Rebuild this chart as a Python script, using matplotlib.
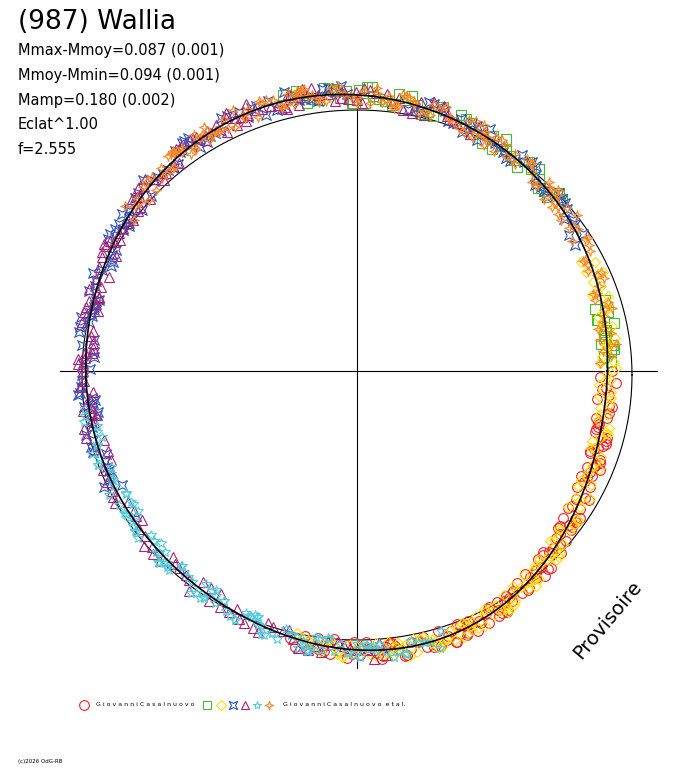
import numpy as np
import matplotlib
matplotlib.use('Agg')
import matplotlib.pyplot as plt
from matplotlib.path import Path

# mean light-curve radius (pixels) vs position angle (deg)
prof_ang = [0, 15, 30, 45, 60, 75, 90, 105, 120, 135, 150, 165, 180, 195, 210,
            225, 240, 255, 270, 285, 300, 315, 330, 345, 360]
prof_rad = [248, 255, 260, 261, 268, 272, 276, 278, 282, 278, 275, 272, 272, 271,
            266, 270, 268, 274, 280, 279, 278, 267, 257, 253, 248]

# radial scatter offsets (read as typical spread around the curve)
offs = [0, 6, -5, 9, -8, 3, -3, 11, -10, 5, -6, 1, 8, -2, -9, 4, 7, -4, 10, -7]

red_ang = [-4, -8, -12, -15, -19, -22, -26, -29, -33, -36, -40, -43, -46, -50, -53, -56,
           -59, -62, -65, -68, -71, -74, -77, -80, -83, -86, -89, -92, -95, -98, -101, -104,
           -60, -48, -38, -24, -17, -84, -70]
green_ang = [72, 76, 80, 84, 87, 91, 94, 98, 101, 5, 8, 12, 2, 40, 44, 48, 52, 56, 60, 64]
yellow_ang = [22, 18, 14, 10, 6, 2, -2, -6, -10, -14, -18, -22, -26, -30, -34, -38, -42, -46,
              -50, -54, -58, -62, -66, -70, -74, -78, -82, -86, -90, -94, -97, -100, -103,
              -44, -52, -60, -68, -76, -84]
blue_ang = [92, 97, 102, 107, 112, 117, 122, 127, 132, 137, 142, 147, 152, 157, 162, 167,
            172, 177, 182, 187, 192, 197, 202, 30, 35, 40, 45, 50, 55, 60, 65, 70, 75,
            125, 145, 165, 185]
purple_ang = [62, 68, 74, 80, 86, 92, 98, 104, 110, 116, 122, 128, 134, 140, 146, 152, 158,
              164, 170, 176, 182, 188, 194, 200, 206, 212, 218, 224, 230, 236, 242, 248,
              254, 260, 266, 272, 139, 151, 163, 175, 187, 113, 101, 89]
cyan_ang = [188, 192, 196, 200, 204, 208, 212, 216, 220, 224, 228, 232, 236, 240, 244, 248,
            252, 256, 260, 264, 268, 272, 276, 280, 284, 210, 222, 234, 246, 258, 270]
orange_ang = [142, 138, 134, 130, 126, 122, 118, 114, 110, 106, 102, 98, 94, 90, 86, 82,
              78, 74, 70, 66, 62, 58, 54, 50, 46, 42, 38, 34, 30, 26, 22, 18, 14, 10, 6, 2,
              128, 120, 100, 80, 60, 40]

legend_1 = 'G i o v a n n i C a s a l n u o v o'
legend_2 = 'G i o v a n n i C a s a l n u o v o  e t a l.'
stats = ['Mmax-Mmoy=0.087 (0.001)', 'Mmoy-Mmin=0.094 (0.001)',
         'Mamp=0.180 (0.002)', 'Eclat^1.00', 'f=2.555']

star4 = Path([(0, 1), (0.25, 0.25), (1, 0), (0.25, -0.25), (0, -1), (-0.25, -0.25),
              (-1, 0), (-0.25, 0.25), (0, 1)])
star4b = Path([(0.7, 0.7), (0, 0.35), (-0.7, 0.7), (-0.35, 0), (-0.7, -0.7), (0, -0.35),
               (0.7, -0.7), (0.35, 0), (0.7, 0.7)])


def radius(a):
    # smooth periodic version of the profile (low-order Fourier series)
    th = np.radians(np.array(prof_ang[:-1], dtype=float))
    rr = np.array(prof_rad[:-1], dtype=float)
    out = np.full_like(a, rr.mean(), dtype=float)
    ta = np.radians(a)
    for n in range(1, 5):
        cn = 2 * np.mean(rr * np.cos(n * th))
        sn = 2 * np.mean(rr * np.sin(n * th))
        out += cn * np.cos(n * ta) + sn * np.sin(n * ta)
    return out


def xy(angs, shift=0, dang=0.0):
    a = (np.array(angs, dtype=float) + dang) % 360
    o = np.array([offs[(i + shift) % len(offs)] for i in range(len(angs))])
    r = radius(a) + o * 0.8
    t = np.radians(a)
    return r * np.cos(t), r * np.sin(t)


fig = plt.figure(figsize=(6.88, 7.68), dpi=100)
ax = fig.add_axes([0, 0, 1, 1])
ax.set_xlim(-357, 331)
ax.set_ylim(-397, 371)
ax.axis('off')

ax.plot([-297, 300], [0, 0], color='black', lw=0.8)
ax.plot([0, 0], [-297, 276], color='black', lw=0.8)

# reference ellipse
t = np.linspace(0, 2 * np.pi, 400)
ax.plot(275 * np.cos(t), -4 + 265 * np.sin(t), color='black', lw=0.8)

series = [
    (red_ang, 'o', '#ee2222', 0),
    (green_ang, 's', '#44bb33', 3),
    (yellow_ang, 'D', '#ffdd00', 7),
    (blue_ang, star4b, '#3355bb', 11),
    (purple_ang, '^', '#aa2277', 5),
    (cyan_ang, '*', '#55ccdd', 9),
    (orange_ang, star4, '#ff8822', 13),
]
for angs, m, c, sh in series:
    for k in range(4):
        x, y = xy(angs, sh + 7 * k, 1.3 * k)
        ms = 7 if m != 'D' else 5.5
        ax.plot(x, y, ls='none', marker=m, ms=ms, mfc='none', mec=c, mew=0.8)

# mean curve
fa = np.linspace(0, 360, 721)
fr = radius(fa)
ax.plot(fr * np.cos(np.radians(fa)), fr * np.sin(np.radians(fa)), color='black', lw=1.2)

fig.text(18 / 688, 1 - 22 / 768, '(987) Wallia', fontsize=19, va='center')
for i, s in enumerate(stats):
    fig.text(18 / 688, 1 - (51 + 24.5 * i) / 768, s, fontsize=10.5, va='center')
fig.text(608 / 688, 1 - 620 / 768, 'Provisoire', fontsize=14, rotation=50,
         ha='center', va='center')

ly = 1 - 705 / 768
fig.lines.append(plt.Line2D([84 / 688], [ly], marker='o', ms=7, mfc='none',
                            mec='#ee2222', mew=0.8, transform=fig.transFigure))
fig.text(96 / 688, ly, legend_1, fontsize=4.5, va='center')
lx = [207, 221, 233, 245, 257, 269]
for (angs, m, c, sh), x in zip(series[1:], lx):
    fig.lines.append(plt.Line2D([x / 688], [ly], marker=m, ms=6 if m != 'D' else 5,
                                mfc='none', mec=c, mew=0.8, transform=fig.transFigure))
fig.text(283 / 688, ly, legend_2, fontsize=4.5, va='center')
fig.text(18 / 688, 1 - 762 / 768, '(c)2026 OdG-RB', fontsize=4, va='center')

fig.savefig('out.png', dpi=100)
